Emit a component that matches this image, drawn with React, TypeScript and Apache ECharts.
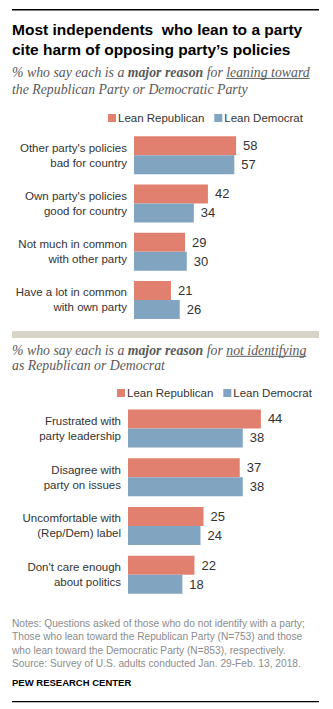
import React, { useEffect, useRef } from "react";
import * as echarts from "echarts";

const categories1 = [
  "Other party's policies\nbad for country",
  "Own party's policies\ngood for country",
  "Not much in common\nwith other party",
  "Have a lot in common\nwith own party",
];
const leanRep1 = [58, 42, 29, 21];
const leanDem1 = [57, 34, 30, 26];

const categories2 = [
  "Frustrated with\nparty leadership",
  "Disagree with\nparty on issues",
  "Uncomfortable with\n(Rep/Dem) label",
  "Don't care enough\nabout politics",
];
const leanRep2 = [44, 37, 25, 22];
const leanDem2 = [38, 38, 24, 18];

const seriesNames = ["Lean Republican", "Lean Democrat"];
const titleLines = [
  "Most independents  who lean to a party",
  "cite harm of opposing party\u2019s policies",
];
const noteLines = [
  "Notes: Questions asked of those who do not identify with a party;",
  "Those who lean toward the Republican Party (N=753) and those",
  "who lean toward the Democratic Party (N=853), respectively.",
  "Source: Survey of U.S. adults conducted Jan. 29-Feb. 13, 2018.",
];

const RED = "#E2806F";
const BLUE = "#81A5C1";
const SANS = "'Liberation Sans', Arial, sans-serif";
const SERIF = "'Liberation Serif', 'DejaVu Serif', serif";

function measure(text: string, font: string): number {
  const c = document.createElement("canvas").getContext("2d");
  if (!c) return text.length * 6;
  c.font = font;
  return c.measureText(text).width;
}

function subtitleLine(
  pieces: { t: string; bold?: boolean; underline?: boolean }[],
  x0: number,
  y: number,
  size: number
) {
  const els: any[] = [];
  let x = x0;
  for (const p of pieces) {
    const font = `italic ${p.bold ? "bold " : ""}${size}px ${SERIF}`;
    const w = measure(p.t, font);
    els.push({
      type: "text",
      style: {
        x,
        y,
        text: p.t,
        font,
        fill: "#595959",
        verticalAlign: "middle",
      },
    });
    if (p.underline) {
      els.push({
        type: "line",
        shape: { x1: x, y1: y + size * 0.42, x2: x + w, y2: y + size * 0.42 },
        style: { stroke: "#595959", lineWidth: 1 },
      });
    }
    x += w;
  }
  return els;
}

export default function App() {
  const ref = useRef<HTMLDivElement>(null);
  useEffect(() => {
    if (!ref.current) return;
    const chart = echarts.init(ref.current, undefined, { renderer: "svg" });
    const subSize = 13.8;
    const graphic: any[] = [
      { type: "rect", shape: { x: 12, y: 9, width: 307, height: 1.5 }, style: { fill: "#000" } },
      ...titleLines.map((t, i) => ({
        type: "text",
        style: {
          x: 12,
          y: 29 + i * 20,
          text: t,
          font: `bold 15.5px ${SANS}`,
          fill: "#000",
          verticalAlign: "middle",
        },
      })),
      ...subtitleLine(
        [
          { t: "% who say each is a " },
          { t: "major reason", bold: true },
          { t: " for " },
          { t: "leaning toward", underline: true },
        ],
        12,
        72.6,
        subSize
      ),
      ...subtitleLine([{ t: "the Republican Party or Democratic Party" }], 12, 89.3, subSize),
      { type: "rect", shape: { x: 12, y: 331, width: 307, height: 7 }, style: { fill: "#D8D5C8" } },
      ...subtitleLine(
        [
          { t: "% who say each is a " },
          { t: "major reason", bold: true },
          { t: " for " },
          { t: "not identifying", underline: true },
        ],
        12,
        350.5,
        subSize
      ),
      ...subtitleLine([{ t: "as Republican or Democrat" }], 12, 365.5, subSize),
      ...noteLines.map((t, i) => ({
        type: "text",
        style: {
          x: 12,
          y: 623.5 + i * 13.3,
          text: t,
          font: `10.2px ${SANS}`,
          fill: "#8C8C8C",
          verticalAlign: "middle",
        },
      })),
      {
        type: "text",
        style: {
          x: 12,
          y: 682,
          text: "PEW RESEARCH CENTER",
          font: `bold 9.5px ${SANS}`,
          fill: "#000",
          verticalAlign: "middle",
        },
      },
      { type: "rect", shape: { x: 12, y: 701, width: 307, height: 1.2 }, style: { fill: "#000" } },
    ];

    const labelStyle = {
      show: true,
      position: "right",
      distance: 7,
      fontSize: 13,
      fontFamily: SANS,
      color: "#333",
    };
    const makeSeries = (name: string, data: number[], color: string, idx: number) => ({
      name,
      type: "bar",
      xAxisIndex: idx,
      yAxisIndex: idx,
      data,
      barWidth: 19,
      barGap: "0%",
      itemStyle: { color },
      label: labelStyle,
    });
    const legendBase = {
      data: seriesNames,
      padding: 0,
      itemWidth: 8,
      itemHeight: 8,
      itemGap: 10,
      icon: "rect",
      textStyle: { fontSize: 11.5, fontFamily: SANS, color: "#333", padding: [0, 0, 0, -3] },
      selectedMode: false,
    };

    chart.setOption({
      animation: false,
      graphic,
      legend: [
        { ...legendBase, left: 108, top: 112 },
        { ...legendBase, left: 117, top: 387 },
      ],
      grid: [
        { left: 134, top: 131, width: 176, height: 193 },
        { left: 128, top: 404, width: 151, height: 195 },
      ],
      xAxis: [
        { gridIndex: 0, type: "value", min: 0, max: 100, show: false },
        { gridIndex: 1, type: "value", min: 0, max: 50, show: false },
      ],
      yAxis: [
        {
          gridIndex: 0,
          type: "category",
          data: categories1,
          inverse: true,
          axisLine: { show: false },
          axisTick: { show: false },
          axisLabel: { margin: 7, fontSize: 11.5, lineHeight: 15, fontFamily: SANS, color: "#333", align: "right" },
        },
        {
          gridIndex: 1,
          type: "category",
          data: categories2,
          inverse: true,
          axisLine: { show: false },
          axisTick: { show: false },
          axisLabel: { margin: 7, fontSize: 11.5, lineHeight: 15, fontFamily: SANS, color: "#333", align: "right" },
        },
      ],
      series: [
        makeSeries(seriesNames[0], leanRep1, RED, 0),
        makeSeries(seriesNames[1], leanDem1, BLUE, 0),
        makeSeries(seriesNames[0], leanRep2, RED, 1),
        makeSeries(seriesNames[1], leanDem2, BLUE, 1),
      ],
    });
    return () => chart.dispose();
  }, []);
  return (
    <div
      ref={ref}
      style={{ position: "absolute", left: 0, top: 0, width: 333, height: 709, background: "#fff" }}
    />
  );
}
